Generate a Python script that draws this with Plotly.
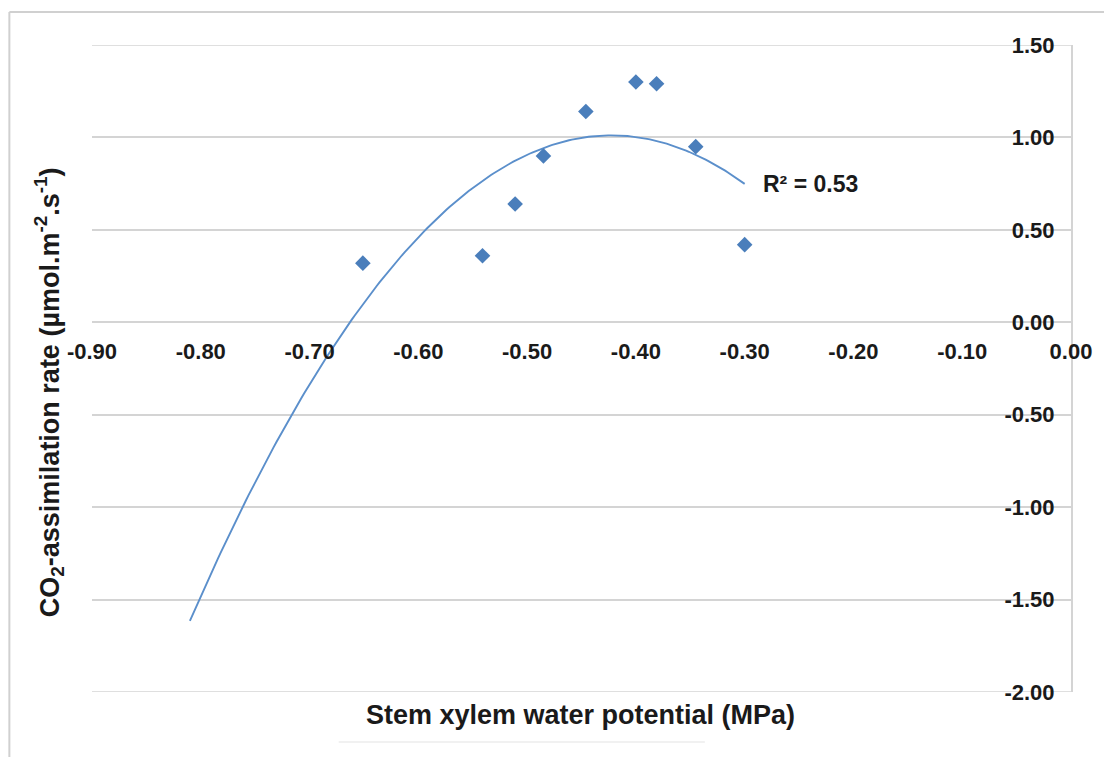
import numpy as np
import plotly.graph_objects as go

# ---- data ----
x_vals = [-0.651, -0.541, -0.511, -0.485, -0.446, -0.400, -0.381, -0.345, -0.300]
y_vals = [0.32, 0.36, 0.64, 0.90, 1.14, 1.30, 1.29, 0.95, 0.42]

x_ticks = [-0.9, -0.8, -0.7, -0.6, -0.5, -0.4, -0.3, -0.2, -0.1, 0.0]
x_tick_labels = ["-0.90", "-0.80", "-0.70", "-0.60", "-0.50", "-0.40", "-0.30", "-0.20", "-0.10", "0.00"]
y_ticks = [-2.0, -1.5, -1.0, -0.5, 0.0, 0.5, 1.0, 1.5]
y_tick_labels = ["-2.00", "-1.50", "-1.00", "-0.50", "0.00", "0.50", "1.00", "1.50"]

trend_start = -0.81   # backward forecast of the trendline
trend_end = -0.30
r2_text = "R² = 0.53"

# polynomial (order 2) trendline fitted to the data
coef = np.polyfit(x_vals, y_vals, 2)
tx = np.linspace(trend_start, trend_end, 200)
ty = np.polyval(coef, tx)

FONT = "Liberation Sans, Arial, sans-serif"
Y_RANGE = [-2.0, 1.5]
GRID = "#d4d4d4"

fig = go.Figure()
fig.add_trace(go.Scatter(x=tx, y=ty, mode="lines",
                         line=dict(color="#5B8FCB", width=1.9),
                         hoverinfo="skip", showlegend=False))
fig.add_trace(go.Scatter(x=x_vals, y=y_vals, mode="markers",
                         marker=dict(symbol="diamond", size=12, color="#4A7EBB",
                                     line=dict(width=0)),
                         showlegend=False))

y_zero_frac = (0 - Y_RANGE[0]) / (Y_RANGE[1] - Y_RANGE[0])

fig.update_layout(
    width=1104, height=757,
    margin=dict(l=92, r=29, t=45, b=65),
    paper_bgcolor="white", plot_bgcolor="white",
    font=dict(family=FONT, color="#1a1a1a"),
    xaxis=dict(range=[-0.9, 0.0], tickvals=x_ticks, ticktext=x_tick_labels,
               anchor="free", position=y_zero_frac, showgrid=False,
               zeroline=False, showline=False, ticks="",
               ticklabelstandoff=14, ticklabeloverflow="allow",
               tickfont=dict(family=FONT, size=22, weight="bold", color="#1a1a1a")),
    yaxis=dict(range=Y_RANGE, tickvals=y_ticks, ticktext=y_tick_labels,
               side="right", ticklabelposition="inside", ticklabeloverflow="allow",
               showgrid=True, gridcolor=GRID, gridwidth=1.6,
               zeroline=False, showline=True, linecolor=GRID, linewidth=1.6,
               ticks="", ticklabelstandoff=18,
               tickfont=dict(family=FONT, size=22, weight="bold", color="#1a1a1a")),
)

# gridlines at the two ends of the value axis (plotly skips those at the edges)
for yv in (Y_RANGE[0], Y_RANGE[1]):
    fig.add_shape(type="line", xref="paper", yref="y", x0=0, x1=1, y0=yv, y1=yv,
                  line=dict(color=GRID, width=1.6), layer="below")

fig.add_annotation(xref="paper", yref="paper", x=0.499, y=-0.0355,
                   text="Stem xylem water potential (MPa)", showarrow=False,
                   xanchor="center", yanchor="middle",
                   font=dict(family=FONT, size=27, weight="bold", color="#1a1a1a"))
fig.add_annotation(xref="paper", yref="paper", x=-0.0437, y=0.4637,
                   text="CO<sub>2</sub>-assimilation rate (µmol.m<sup>-2</sup>.s<sup>-1</sup>)",
                   showarrow=False, textangle=-90,
                   xanchor="center", yanchor="middle",
                   font=dict(family=FONT, size=27, weight="bold", color="#1a1a1a"))
fig.add_annotation(xref="x", yref="y", x=trend_end, y=0.75, xshift=16,
                   text=r2_text, showarrow=False, xanchor="left", yanchor="middle",
                   font=dict(family=FONT, size=23, weight="bold", color="#1a1a1a"))

# chart frame (top and left border of the original chart area)
fig.add_shape(type="line", xref="paper", yref="paper", x0=-0.0844, x1=1.04, y0=1.051, y1=1.051,
              line=dict(color="#d0d0d0", width=2))
fig.add_shape(type="line", xref="paper", yref="paper", x0=-0.0844, x1=-0.0844, y0=1.051, y1=-0.11,
              line=dict(color="#d0d0d0", width=2))
fig.add_shape(type="line", xref="paper", yref="paper", x0=0.252, x1=0.626, y0=-0.0773, y1=-0.0773,
              line=dict(color="#ececec", width=1.5))

fig.write_html("out.html")
